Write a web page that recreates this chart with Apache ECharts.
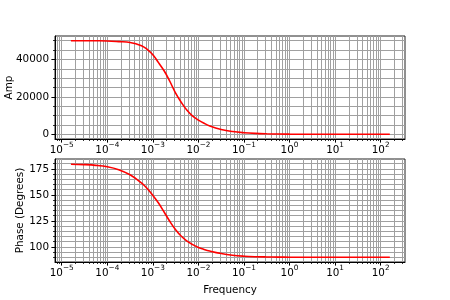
<!DOCTYPE html>
<html>
<head>
<meta charset="utf-8">
<script src="https://cdn.jsdelivr.net/npm/echarts@6/dist/echarts.min.js"></script>
<style>
html,body{margin:0;padding:0;background:#fff;}
#chart{width:450px;height:300px;}
</style>
</head>
<body>
<div id="chart"></div>
<script>
// Frequency samples
const freq = [1.59e-5, 3.16e-5, 5.62e-5, 1.0e-4, 1.78e-4, 3.16e-4, 5.62e-4, 7.5e-4,
  1.0e-3, 1.33e-3, 1.78e-3, 2.37e-3, 3.16e-3, 4.22e-3, 5.62e-3, 7.5e-3,
  1.0e-2, 1.33e-2, 1.78e-2, 3.16e-2, 5.62e-2, 0.1, 0.178, 0.316, 0.562,
  1.0, 3.16, 10, 31.6, 100, 159];
const amp = [49990, 49980, 49950, 49850, 49500, 49050, 47300, 45400,
  42500, 38300, 33800, 28200, 22000, 17000, 12800, 9700,
  7600, 5900, 4450, 2600, 1500, 860, 480, 270, 150,
  85, 27, 8.5, 2.7, 0.9, 0.55];
const phase = [179.5, 179.1, 178.4, 177.0, 174.2, 169.3, 161.5, 156.1,
  149.5, 142.2, 133.3, 124.4, 116.5, 110.2, 105.6, 102.2,
  99.5, 97.6, 96.0, 93.6, 92.0, 91.1, 90.6, 90.35, 90.2,
  90.1, 90.04, 90.01, 90.0, 90.0, 90.0];
const freqTicks = [1e-5, 1e-4, 1e-3, 1e-2, 1e-1, 1, 10, 100];
const ampTicks = [0, 20000, 40000];
const phaseTicks = [100, 125, 150, 175];

const FONT = 'DejaVu Sans';
const GRIDC = '#a0a0a0';

function logLabel(v) {
  const e = Math.log10(v);
  const r = Math.round(e);
  if (Math.abs(e - r) > 1e-6) return '';
  const s = (r < 0 ? '\u2212' : '') + Math.abs(r);
  return '{b|10}{s|' + s + '}';
}

function xAxis(i) {
  return {
    type: 'log', logBase: 10, gridIndex: i,
    min: Math.pow(10, -5.148), max: Math.pow(10, 2.535),
    name: i === 1 ? 'Frequency' : '',
    nameLocation: 'middle', nameGap: 23, nameMoveOverlap: false,
    nameTextStyle: {fontFamily: FONT, fontSize: 10.4, color: '#000'},
    axisLine: {show: true, onZero: false, lineStyle: {color: '#000', width: 1}},
    axisTick: {show: true, length: 3.6, customValues: freqTicks, lineStyle: {color: '#000', width: 1}},
    minorTick: {show: true, splitNumber: 9, length: 2, lineStyle: {color: '#000', width: 0.8}},
    splitLine: {show: true, lineStyle: {color: GRIDC, width: 1}},
    minorSplitLine: {show: true, lineStyle: {color: GRIDC, width: 1}},
    axisLabel: {
      interval: 0, margin: 3, color: '#000', fontFamily: FONT,
      customValues: freqTicks,
      formatter: logLabel,
      rich: {
        b: {fontFamily: FONT, fontSize: 10.4, lineHeight: 13, verticalAlign: 'bottom', color: '#000'},
        s: {fontFamily: FONT, fontSize: 7.3, lineHeight: 4, verticalAlign: 'top', color: '#000'}
      }
    }
  };
}

function yAxis(i, name, min, max, step, minorN, ticks, gap) {
  return {
    type: 'value', gridIndex: i, min: min, max: max,
    minInterval: step, maxInterval: step, splitNumber: 3,
    name: name, nameLocation: 'middle', nameGap: gap, nameMoveOverlap: false,
    nameTextStyle: {fontFamily: FONT, fontSize: 10.4, color: '#000'},
    axisLine: {show: true, onZero: false, lineStyle: {color: '#000', width: 1}},
    axisTick: {show: true, length: 3.6, customValues: ticks, lineStyle: {color: '#000', width: 1}},
    minorTick: {show: true, splitNumber: minorN, length: 2, lineStyle: {color: '#000', width: 0.8}},
    splitLine: {show: true, lineStyle: {color: GRIDC, width: 1}},
    minorSplitLine: {show: true, lineStyle: {color: GRIDC, width: 1}},
    axisLabel: {
      margin: 6, color: '#000', fontFamily: FONT, fontSize: 10.4,
      customValues: ticks,
      formatter: function (v) { return ticks.indexOf(v) >= 0 ? String(v) : ''; }
    }
  };
}

const chart = echarts.init(document.getElementById('chart'), null, {renderer: 'canvas'});
chart.setOption({
  animation: false,
  backgroundColor: '#fff',
  grid: [
    {left: 55, top: 36, width: 350, height: 103, containLabel: false, outerBoundsMode: 'none',
     show: true, borderColor: '#222', borderWidth: 1, backgroundColor: 'transparent'},
    {left: 55, top: 159, width: 350, height: 103, containLabel: false, outerBoundsMode: 'none',
     show: true, borderColor: '#222', borderWidth: 1, backgroundColor: 'transparent'}
  ],
  xAxis: [xAxis(0), xAxis(1)],
  yAxis: [
    yAxis(0, 'Amp', -2500, 52500, 20000, 4, ampTicks, 41),
    yAxis(1, 'Phase (Degrees)', 85.5, 184.5, 25, 5, phaseTicks, 30)
  ],
  series: [
    {type: 'line', xAxisIndex: 0, yAxisIndex: 0, showSymbol: false, smooth: 0.4,
     lineStyle: {color: '#ff0000', width: 1.6}, data: freq.map((f, k) => [f, amp[k]])},
    {type: 'line', xAxisIndex: 1, yAxisIndex: 1, showSymbol: false, smooth: 0.4,
     lineStyle: {color: '#ff0000', width: 1.6}, data: freq.map((f, k) => [f, phase[k]])}
  ]
});
</script>
</body>
</html>
